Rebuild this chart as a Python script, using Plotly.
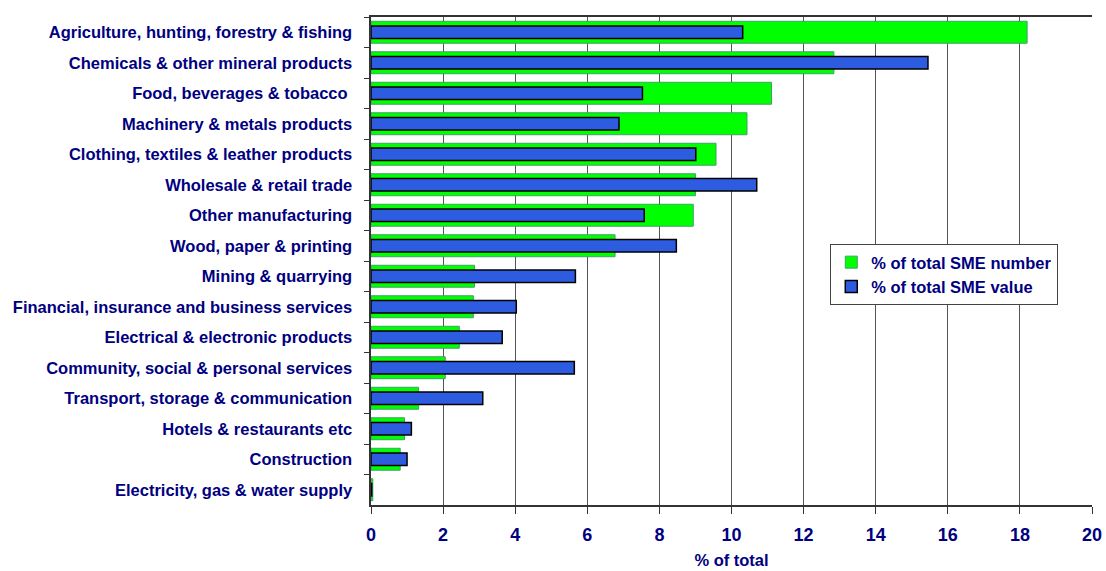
import plotly.graph_objects as go

# Sector breakdown of SMEs: share of number vs share of value (% of total)
sectors = [
    "Agriculture, hunting, forestry & fishing",
    "Chemicals & other mineral products",
    "Food, beverages & tobacco ",
    "Machinery & metals products",
    "Clothing, textiles & leather products",
    "Wholesale & retail trade",
    "Other manufacturing",
    "Wood, paper & printing",
    "Mining & quarrying",
    "Financial, insurance and business services",
    "Electrical & electronic products",
    "Community, social & personal services",
    "Transport, storage & communication",
    "Hotels & restaurants etc",
    "Construction",
    "Electricity, gas & water supply",
]
sme_number_pct = [18.2, 12.84, 11.11, 10.43, 9.57, 9.0, 8.94, 6.77,
                  2.87, 2.84, 2.45, 2.06, 1.32, 0.93, 0.81, 0.05]
sme_value_pct = [10.31, 15.45, 7.53, 6.88, 9.01, 10.7, 7.58, 8.47,
                 5.67, 4.03, 3.64, 5.64, 3.10, 1.12, 1.0, 0.02]
x_ticks = [0, 2, 4, 6, 8, 10, 12, 14, 16, 18, 20]

NAVY = "#000080"
FONT = "Liberation Sans, Arial, sans-serif"

fig = go.Figure()
fig.add_trace(go.Bar(
    y=sectors, x=sme_number_pct, orientation="h",
    name="% of total SME number",
    width=0.72,
    marker=dict(color="#00FF00", line=dict(color="#3FA06A", width=1)),
))
fig.add_trace(go.Bar(
    y=sectors, x=sme_value_pct, orientation="h",
    name="% of total SME value",
    width=0.41,
    marker=dict(color="#2E5CE0", line=dict(color="#000000", width=1.5)),
))

fig.update_layout(
    width=1106, height=571,
    margin=dict(l=371, r=14, t=17, b=66, autoexpand=False),
    barmode="overlay",
    plot_bgcolor="white", paper_bgcolor="white",
    font=dict(family=FONT, color=NAVY, size=16),
    showlegend=True,
    legend=dict(
        x=0.637, y=0.535, xanchor="left", yanchor="top",
        bgcolor="white", bordercolor="#444444", borderwidth=1,
        font=dict(family=FONT, size=16.5, color=NAVY, weight="bold"),
        itemwidth=30,
    ),
    xaxis=dict(
        range=[0, 20], tickvals=x_ticks,
        showgrid=True, gridcolor="#555555", gridwidth=1,
        showline=True, linecolor="#333333", linewidth=1.5, mirror=True,
        ticks="outside", ticklen=7, tickcolor="#333333",
        ticklabelstandoff=6,
        tickfont=dict(family=FONT, size=18, color=NAVY, weight="bold"),
        title=dict(text="% of total",
                   font=dict(family=FONT, size=16.5, color=NAVY, weight="bold"),
                   standoff=10),
        zeroline=False, automargin=False,
    ),
    yaxis=dict(
        type="category", autorange="reversed",
        showline=True, linecolor="#333333", linewidth=1.5,
        ticks="outside", ticklen=5, tickcolor="#333333",
        tickson="boundaries",
        tickfont=dict(family=FONT, size=16.5, color=NAVY, weight="bold"),
        ticksuffix="   ",
        showgrid=False, automargin=False,
    ),
)

fig.write_html("out.html")
